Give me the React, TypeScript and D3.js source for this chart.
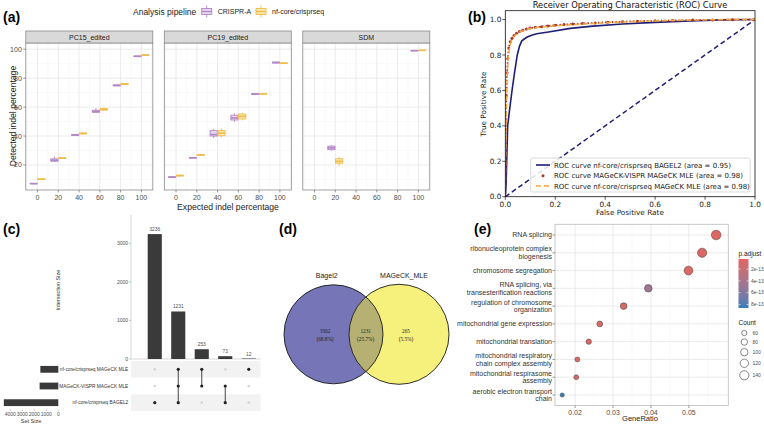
import React from 'react';
import * as d3 from 'd3';

const W = 764;
const H = 425;
const SANS = 'Liberation Sans, Arial, sans-serif';
const MPL = 'DejaVu Sans, sans-serif';

// ---------- (a) indel boxplots ----------
const facetNames = ['PC15_edited', 'PC19_edited', 'SDM'];
const pipelines = ['CRISPR-A', 'nf-core/crisprseq'];
const expectedPC = [0, 20, 40, 60, 80, 100];
const expectedSDM = [20, 100];
// [lower whisker, q1, median, q3, upper whisker]
const pc15Crispr = [
  [6.8, 7.0, 7.1, 7.3, 7.5],
  [22.3, 22.6, 23.3, 24.2, 25.8],
  [40.3, 40.5, 40.8, 41.0, 41.2],
  [56.2, 56.4, 57.0, 57.8, 59.2],
  [74.5, 74.7, 75.0, 75.3, 75.5],
  [94.7, 94.9, 95.1, 95.3, 95.5],
];
const pc15Nf = [
  [9.8, 10.0, 10.2, 10.4, 10.6],
  [24.3, 24.5, 24.8, 25.0, 25.2],
  [41.2, 41.5, 41.8, 42.1, 42.4],
  [57.6, 57.9, 58.5, 59.1, 59.4],
  [75.3, 75.6, 76.0, 76.3, 76.6],
  [95.4, 95.6, 95.9, 96.1, 96.3],
];
const pc19Crispr = [
  [11.2, 11.4, 11.6, 11.8, 12.0],
  [24.6, 24.8, 25.0, 25.2, 25.4],
  [38.6, 40.0, 41.0, 43.7, 44.9],
  [49.9, 51.1, 52.5, 54.4, 55.7],
  [68.4, 68.7, 69.0, 69.3, 69.6],
  [90.3, 90.5, 90.8, 91.1, 91.3],
];
const pc19Nf = [
  [12.2, 12.4, 12.7, 12.9, 13.1],
  [26.5, 26.7, 27.0, 27.2, 27.4],
  [39.0, 40.2, 42.0, 43.8, 45.2],
  [50.8, 51.8, 53.6, 55.2, 56.0],
  [68.8, 69.0, 69.2, 69.4, 69.6],
  [89.9, 90.1, 90.3, 90.5, 90.7],
];
const sdmCrispr = [
  [30.0, 30.6, 31.8, 33.0, 33.6],
  [98.8, 98.9, 99.0, 99.1, 99.2],
];
const sdmNf = [
  [19.3, 21.2, 22.5, 24.3, 25.7],
  [99.0, 99.1, 99.2, 99.3, 99.4],
];
const aTicks = [0, 20, 40, 60, 80, 100];

// ---------- (b) ROC ----------
const bagelFpr = [0, 0.003, 0.006, 0.0095, 0.018, 0.027, 0.037, 0.048, 0.057, 0.066, 0.086, 0.105, 0.126, 0.173, 0.26, 0.35, 0.47, 0.6, 0.74, 0.86, 1.0];
const bagelTpr = [0, 0.06, 0.22, 0.4, 0.5, 0.6, 0.7, 0.8, 0.85, 0.88, 0.9, 0.912, 0.92, 0.93, 0.95, 0.963, 0.975, 0.984, 0.992, 0.998, 1.0];
const visprFpr = [0, 0.001, 0.002, 0.004, 0.007, 0.01, 0.014, 0.02, 0.027, 0.035, 0.045, 0.057, 0.07, 0.085, 0.1, 0.12, 0.145, 0.17, 0.2, 0.235, 0.27, 0.31, 0.36, 0.41, 0.47, 0.53, 0.6, 0.67, 0.75, 0.83, 0.91, 1.0];
const visprTpr = [0, 0.18, 0.38, 0.57, 0.7, 0.78, 0.84, 0.875, 0.895, 0.91, 0.922, 0.932, 0.94, 0.947, 0.952, 0.956, 0.96, 0.964, 0.968, 0.972, 0.975, 0.978, 0.981, 0.985, 0.988, 0.991, 0.993, 0.995, 0.997, 0.998, 0.999, 1.0];
const nfFpr = [0, 0.001, 0.003, 0.006, 0.009, 0.0122, 0.018, 0.025, 0.032, 0.045, 0.059, 0.08, 0.099, 0.13, 0.166, 0.21, 0.26, 0.32, 0.38, 0.46, 0.54, 0.7, 0.87, 1.0];
const nfTpr = [0, 0.2, 0.4, 0.6, 0.72, 0.8, 0.85, 0.88, 0.9, 0.917, 0.93, 0.942, 0.95, 0.955, 0.96, 0.965, 0.97, 0.975, 0.98, 0.985, 0.99, 0.996, 1.0, 1.0];
const rocLabels = [
  'ROC curve nf-core/crisprseq BAGEL2 (area = 0.95)',
  'ROC curve MAGeCK-VISPR MAGeCK MLE (area = 0.98)',
  'ROC curve nf-core/crisprseq MAGeCK MLE (area = 0.98)',
];
const rocTicks = [0, 0.2, 0.4, 0.6, 0.8, 1.0];

// ---------- (c) upset ----------
const setNames = ['nf-core/crisprseq MAGeCK MLE', 'MAGeCK-VISPR MAGeCK MLE', 'nf-core/crisprseq BAGEL2'];
const setSizes = [1496, 1557, 4540];
const intersectionSizes = [3236, 1231, 253, 73, 12];
const intersectionMembers = [[2], [0, 1, 2], [0, 1], [1, 2], [0]];
const intersectionTicks = [0, 1000, 2000, 3000];
const setSizeTicks = [4000, 3000, 2000, 1000, 0];

// ---------- (d) venn ----------
const vennNames = ['Bagel2', 'MAGeCK_MLE'];
const vennCounts = [3302, 1231, 265];
const vennPercents = ['68.8%', '25.7%', '5.5%'];

// ---------- (e) GO dotplot ----------
const goTerms = [
  'RNA splicing',
  'ribonucleoprotein complex\nbiogenesis',
  'chromosome segregation',
  'RNA splicing, via\ntransesterification reactions',
  'regulation of chromosome\norganization',
  'mitochondrial gene expression',
  'mitochondrial translation',
  'mitochondrial respiratory\nchain complex assembly',
  'mitochondrial respirasome\nassembly',
  'aerobic electron transport\nchain',
];
const goGeneRatio = [0.0572, 0.0535, 0.0499, 0.0393, 0.0328, 0.0265, 0.0236, 0.0206, 0.0203, 0.0166];
const goCount = [150, 140, 131, 103, 86, 69, 62, 54, 53, 44];
const goPadj = [3.0e-14, 5.0e-14, 6.0e-14, 4.6e-13, 9.0e-14, 7.0e-14, 6.5e-14, 4.0e-14, 3.5e-14, 8.6e-13];
const goXTicks = [0.02, 0.03, 0.04, 0.05];
const padjTicks = [2e-13, 4e-13, 6e-13, 8e-13];
const padjTickLabels = ['2e-13', '4e-13', '6e-13', '8e-13'];
const countLegend = [60, 80, 100, 120, 140];

const PURPLE = '#b386c8';
const PURPLE_FILL = '#e7d8ef';
const GOLD = '#eebd4a';
const GOLD_FILL = '#f9e7b3';

function BoxGlyph({ x, s, y, half, stroke, fill }: any) {
  const [lw, q1, med, q3, uw] = s;
  return (
    <g stroke={stroke}>
      <line x1={x} x2={x} y1={y(lw)} y2={y(q1)} strokeWidth={0.9} />
      <line x1={x} x2={x} y1={y(q3)} y2={y(uw)} strokeWidth={0.9} />
      <rect x={x - half} y={y(q3)} width={2 * half} height={Math.max(0.1, y(q1) - y(q3))} fill={fill} strokeWidth={0.9} />
      <line x1={x - half} x2={x + half} y1={y(med)} y2={y(med)} strokeWidth={1.6} />
    </g>
  );
}

function PanelA() {
  const facetLeft = [25.8, 164.3, 302.8];
  const facetW = 127;
  const top = 43;
  const bottom = 190;
  const stripTop = 31;
  const y = d3.scaleLinear().domain([2.7, 104.3]).range([bottom, top]);
  const facets = [
    { xs: expectedPC, a: pc15Crispr, b: pc15Nf },
    { xs: expectedPC, a: pc19Crispr, b: pc19Nf },
    { xs: expectedSDM, a: sdmCrispr, b: sdmNf },
  ];
  const yMinor = [10, 30, 50, 70, 90];
  const xMinor = [-10, 10, 30, 50, 70, 90, 110];
  return (
    <g fontFamily={SANS}>
      <text x={3} y={22} fontSize={14} fontWeight="bold">(a)</text>
      {/* legend */}
      <text x={133} y={15} fontSize={8.5} fill="#222">Analysis pipeline</text>
      {[0, 1].map((k) => {
        const cx = k === 0 ? 206.7 : 261;
        const col = k === 0 ? PURPLE : GOLD;
        const fl = k === 0 ? PURPLE_FILL : GOLD_FILL;
        return (
          <g key={k}>
            <line x1={cx} x2={cx} y1={5.5} y2={8.5} stroke={col} strokeWidth={0.9} />
            <line x1={cx} x2={cx} y1={14.5} y2={17.5} stroke={col} strokeWidth={0.9} />
            <rect x={cx - 5} y={8.5} width={10} height={6} fill={fl} stroke={col} strokeWidth={0.9} />
            <line x1={cx - 5} x2={cx + 5} y1={11.5} y2={11.5} stroke={col} strokeWidth={1.3} />
            <text x={cx + 11} y={14} fontSize={7} fill="#222">{pipelines[k]}</text>
          </g>
        );
      })}
      {facets.map((f, i) => {
        const x0 = facetLeft[i];
        const x = d3.scaleLinear().domain([-11.3, 111]).range([x0, x0 + facetW]);
        return (
          <g key={i}>
            <rect x={x0} y={top} width={facetW} height={bottom - top} fill="#fff" />
            {xMinor.map((t) => (
              <line key={'xm' + t} x1={x(t)} x2={x(t)} y1={top} y2={bottom} stroke="#f3f3f3" strokeWidth={0.5} />
            ))}
            {yMinor.map((t) => (
              <line key={'ym' + t} x1={x0} x2={x0 + facetW} y1={y(t)} y2={y(t)} stroke="#f3f3f3" strokeWidth={0.5} />
            ))}
            {aTicks.map((t) => (
              <line key={'xg' + t} x1={x(t)} x2={x(t)} y1={top} y2={bottom} stroke="#e6e6e6" strokeWidth={0.8} />
            ))}
            {aTicks.filter((t) => t > 0).map((t) => (
              <line key={'yg' + t} x1={x0} x2={x0 + facetW} y1={y(t)} y2={y(t)} stroke="#e6e6e6" strokeWidth={0.8} />
            ))}
            {f.xs.map((e, j) => (
              <g key={j}>
                <BoxGlyph x={x(e - 3.75)} s={f.a[j]} y={y} half={3.6} stroke={PURPLE} fill={PURPLE_FILL} />
                <BoxGlyph x={x(e + 3.75)} s={f.b[j]} y={y} half={3.6} stroke={GOLD} fill={GOLD_FILL} />
              </g>
            ))}
            <rect x={x0} y={top} width={facetW} height={bottom - top} fill="none" stroke="#8a8a8a" strokeWidth={0.8} />
            <rect x={x0} y={stripTop} width={facetW} height={top - stripTop} fill="#d9d9d9" stroke="#8a8a8a" strokeWidth={0.8} />
            <text x={x0 + facetW / 2} y={top - 3.5} fontSize={7} textAnchor="middle" fill="#1a1a1a">{facetNames[i]}</text>
            {aTicks.map((t) => (
              <g key={'xt' + t}>
                <line x1={x(t)} x2={x(t)} y1={bottom} y2={bottom + 2.5} stroke="#555" strokeWidth={0.6} />
                <text x={x(t)} y={bottom + 9.5} fontSize={7} textAnchor="middle" fill="#4d4d4d">{t}</text>
              </g>
            ))}
            {i === 0 &&
              aTicks.filter((t) => t > 0).map((t) => (
                <g key={'yt' + t}>
                  <line x1={x0 - 2.5} x2={x0} y1={y(t)} y2={y(t)} stroke="#555" strokeWidth={0.6} />
                  <text x={x0 - 4} y={y(t) + 2.5} fontSize={7} textAnchor="end" fill="#4d4d4d">{t}</text>
                </g>
              ))}
          </g>
        );
      })}
      <text x={12.5} y={116} fontSize={8.6} textAnchor="middle" transform="rotate(-90 12.5 116)" dy={3} fill="#222">
        Detected indel percentage
      </text>
      <text x={228} y={210} fontSize={8.6} textAnchor="middle" fill="#222">Expected indel percentage</text>
    </g>
  );
}

function PanelB() {
  const x = d3.scaleLinear().domain([0, 1]).range([505.3, 755]);
  const y = d3.scaleLinear().domain([0, 1.05]).range([196.7, 10.7]);
  const line = d3.line<number[]>().x((d) => x(d[0])).y((d) => y(d[1]));
  const bagel = bagelFpr.map((f, i) => [f, bagelTpr[i]]);
  const vispr = visprFpr.map((f, i) => [f, visprTpr[i]]);
  const nf = nfFpr.map((f, i) => [f, nfTpr[i]]);
  const NAVY = '#1f1f78';
  const BROWN = '#a8372a';
  const ORANGE = '#f5a640';
  const legY = [165, 175.7, 186];
  return (
    <g fontFamily={MPL}>
      <text x={468} y={22} fontSize={14} fontWeight="bold" fontFamily={SANS}>(b)</text>
      <text x={630} y={8} fontSize={8.3} textAnchor="middle" fill="#111">Receiver Operating Characteristic (ROC) Curve</text>
      <defs>
        <clipPath id="rocClip">
          <rect x={x(0)} y={y(1.05)} width={x(1) - x(0)} height={y(0) - y(1.05)} />
        </clipPath>
      </defs>
      <g clipPath="url(#rocClip)">
        <path d={line([[0, 0], [1, 1]]) || ''} fill="none" stroke={NAVY} strokeWidth={1.5} strokeDasharray="5 3" />
        <path d={line(bagel) || ''} fill="none" stroke={NAVY} strokeWidth={1.6} />
        <path d={line(vispr) || ''} fill="none" stroke={BROWN} strokeWidth={1.8} strokeDasharray="1.5 2" />
        {vispr.map((d, i) => (
          <circle key={i} cx={x(d[0])} cy={y(d[1])} r={1.5} fill={BROWN} />
        ))}
        <path d={line(nf) || ''} fill="none" stroke={ORANGE} strokeWidth={1.5} strokeDasharray="5 3" />
      </g>
      <rect x={x(0)} y={y(1.05)} width={x(1) - x(0)} height={y(0) - y(1.05)} fill="none" stroke="#111" strokeWidth={0.8} />
      {rocTicks.map((t) => (
        <g key={t}>
          <line x1={x(t)} x2={x(t)} y1={y(0)} y2={y(0) + 3} stroke="#111" strokeWidth={0.7} />
          <text x={x(t)} y={y(0) + 10} fontSize={7.3} textAnchor="middle" fill="#222">{t.toFixed(1)}</text>
          <line x1={x(0) - 3} x2={x(0)} y1={y(t)} y2={y(t)} stroke="#111" strokeWidth={0.7} />
          <text x={x(0) - 4} y={y(t) + 2.6} fontSize={7.3} textAnchor="end" fill="#222">{t.toFixed(1)}</text>
        </g>
      ))}
      <text x={630} y={214.5} fontSize={7.3} textAnchor="middle" fill="#222">False Positive Rate</text>
      <text x={483} y={104} fontSize={7.3} textAnchor="middle" transform="rotate(-90 483 104)" dy={2.5} fill="#222">True Positive Rate</text>
      {/* legend */}
      <rect x={530.7} y={158} width={219.5} height={34} rx={2} fill="#fff" fillOpacity={0.85} stroke="#d0d0d0" strokeWidth={0.8} />
      <line x1={536} x2={550} y1={legY[0]} y2={legY[0]} stroke={NAVY} strokeWidth={1.6} />
      <circle cx={543} cy={legY[1]} r={1.5} fill={BROWN} />
      <line x1={536} x2={550} y1={legY[2]} y2={legY[2]} stroke={ORANGE} strokeWidth={1.5} strokeDasharray="5 3" />
      {rocLabels.map((l, i) => (
        <text key={i} x={554} y={legY[i] + 2.5} fontSize={7} fill="#222">{l}</text>
      ))}
    </g>
  );
}

function PanelC() {
  const xb = d3.scaleBand<number>().domain(d3.range(intersectionSizes.length)).range([143, 260.5]).paddingInner(0.4).paddingOuter(0.2);
  const y = d3.scaleLinear().domain([0, 3000]).range([359, 243.2]);
  const row = d3.scaleBand<string>().domain(setNames).range([361, 411]);
  const sx = d3.scaleLinear().domain([0, 4000]).range([58.3, 10.3]);
  const BAR = '#3a3a3a';
  return (
    <g fontFamily={SANS}>
      <text x={3} y={234} fontSize={14} fontWeight="bold">(c)</text>
      {/* matrix stripes */}
      {setNames.map((s, j) => (
        <rect key={s} x={131} y={row(s)} width={129.5} height={row.bandwidth()} fill={j % 2 === 0 ? '#f2f2f2' : '#fff'} />
      ))}
      {/* intersection bars */}
      <line x1={131} x2={131} y1={215} y2={359} stroke="#bdbdbd" strokeWidth={0.6} />
      <line x1={131} x2={260.5} y1={359} y2={359} stroke="#bdbdbd" strokeWidth={0.6} />
      {intersectionTicks.map((t) => (
        <g key={t}>
          <line x1={129} x2={131} y1={y(t)} y2={y(t)} stroke="#999" strokeWidth={0.5} />
          <text x={128} y={y(t) + 1.8} fontSize={5} textAnchor="end" fill="#4d4d4d">{t}</text>
        </g>
      ))}
      {intersectionSizes.map((v, i) => (
        <g key={i}>
          <rect x={xb(i)} y={y(v)} width={xb.bandwidth()} height={y(0) - y(v)} fill={BAR} />
          <text x={(xb(i) as number) + xb.bandwidth() / 2} y={y(v) - 3} fontSize={4.8} textAnchor="middle" fill="#4d4d4d">{v}</text>
        </g>
      ))}
      <text x={59.5} y={290} fontSize={5.5} textAnchor="middle" transform="rotate(-90 59.5 290)" fill="#333">Intersection Size</text>
      {/* matrix */}
      {intersectionMembers.map((m, i) => {
        const cx = (xb(i) as number) + xb.bandwidth() / 2;
        const ys = m.map((j) => (row(setNames[j]) as number) + row.bandwidth() / 2);
        return (
          <g key={i}>
            {setNames.map((s, j) =>
              m.includes(j) ? null : (
                <circle key={s} cx={cx} cy={(row(s) as number) + row.bandwidth() / 2} r={1.3} fill="#d6d6d6" />
              )
            )}
            {m.length > 1 && (
              <line x1={cx} x2={cx} y1={d3.min(ys)} y2={d3.max(ys)} stroke="#333" strokeWidth={0.9} />
            )}
            {ys.map((yy, k) => (
              <circle key={k} cx={cx} cy={yy} r={1.6} fill="#222" />
            ))}
          </g>
        );
      })}
      {/* set sizes */}
      {setNames.map((s, j) => {
        const cy = (row(s) as number) + row.bandwidth() / 2;
        return (
          <g key={s}>
            <rect x={sx(setSizes[j])} y={cy - 3.4} width={sx(0) - sx(setSizes[j])} height={6.8} fill={BAR} />
            <text x={128.3} y={cy + 1.7} fontSize={4.8} textAnchor="end" fill="#333">{s}</text>
          </g>
        );
      })}
      {setSizeTicks.map((t) => (
        <g key={t}>
          <line x1={sx(t)} x2={sx(t)} y1={409.5} y2={411} stroke="#999" strokeWidth={0.5} />
          <text x={sx(t)} y={416} fontSize={5} textAnchor="middle" fill="#4d4d4d">{t}</text>
        </g>
      ))}
      <text x={31} y={423} fontSize={5.5} textAnchor="middle" fill="#333">Set Size</text>
    </g>
  );
}

function PanelD() {
  const c1 = { x: 333.5, y: 334.3, r: 49.5 };
  const c2 = { x: 399, y: 334.3, r: 50 };
  const serif = 'Liberation Serif, Times New Roman, serif';
  const numX = [325, 365.7, 406];
  return (
    <g fontFamily={SANS}>
      <text x={279} y={234} fontSize={14} fontWeight="bold">(d)</text>
      <defs>
        <clipPath id="vennClip">
          <circle cx={c1.x} cy={c1.y} r={c1.r} />
        </clipPath>
      </defs>
      <circle cx={c1.x} cy={c1.y} r={c1.r} fill="#7575b8" />
      <circle cx={c2.x} cy={c2.y} r={c2.r} fill="#f6f17c" />
      <circle cx={c2.x} cy={c2.y} r={c2.r} fill="#b6b173" clipPath="url(#vennClip)" />
      <circle cx={c1.x} cy={c1.y} r={c1.r} fill="none" stroke="#1a1a1a" strokeWidth={0.9} />
      <circle cx={c2.x} cy={c2.y} r={c2.r} fill="none" stroke="#1a1a1a" strokeWidth={0.9} />
      <text x={326.7} y={277.5} fontSize={7} textAnchor="middle" fill="#222">{vennNames[0]}</text>
      <text x={404} y={277.5} fontSize={7} textAnchor="middle" fill="#222">{vennNames[1]}</text>
      {vennCounts.map((v, i) => (
        <g key={i} fontFamily={serif} fontSize={5.3} fill="#222" textAnchor="middle">
          <text x={numX[i]} y={333}>{v}</text>
          <text x={numX[i]} y={340.5}>({vennPercents[i]})</text>
        </g>
      ))}
    </g>
  );
}

function PanelE() {
  const left = 555;
  const right = 728.3;
  const top = 224.3;
  const bottom = 405.5;
  const x = d3.scaleLinear().domain([0.0147, 0.0604]).range([left, right]);
  const y = d3.scalePoint<string>().domain(goTerms).range([235, 395]);
  const pmin = d3.min(goPadj) as number;
  const pmax = d3.max(goPadj) as number;
  const color = d3.scaleLinear<string>().domain([pmin, pmax]).range(['#e06663', '#327eba']).interpolate(d3.interpolateLab);
  const rs = d3.scaleLinear().domain([Math.sqrt(44), Math.sqrt(150)]).range([2.1, 4.8]);
  const r = (c: number) => rs(Math.sqrt(c));
  const cbTop = 259;
  const cbBottom = 308;
  const cb = d3.scaleLinear().domain([pmin, pmax]).range([cbTop, cbBottom]);
  const minor = [0.015, 0.025, 0.035, 0.045, 0.055];
  const legYs: number[] = [];
  countLegend.forEach((c, i) => {
    if (i === 0) legYs.push(333);
    else legYs.push(legYs[i - 1] + r(countLegend[i - 1]) + r(c) + 3.2);
  });
  return (
    <g fontFamily={SANS}>
      <text x={474} y={234} fontSize={14} fontWeight="bold">(e)</text>
      <defs>
        <linearGradient id="padjGrad" x1="0" y1="0" x2="0" y2="1">
          {d3.range(0, 1.0001, 0.1).map((t) => (
            <stop key={t} offset={t} stopColor={color(pmin + t * (pmax - pmin))} />
          ))}
        </linearGradient>
      </defs>
      <rect x={left} y={top} width={right - left} height={bottom - top} fill="#fff" />
      {minor.map((t) => (
        <line key={t} x1={x(t)} x2={x(t)} y1={top} y2={bottom} stroke="#f4f4f4" strokeWidth={0.5} />
      ))}
      {goXTicks.map((t) => (
        <line key={t} x1={x(t)} x2={x(t)} y1={top} y2={bottom} stroke="#e6e6e6" strokeWidth={0.8} />
      ))}
      {goTerms.map((t) => (
        <line key={t} x1={left} x2={right} y1={y(t)} y2={y(t)} stroke="#e6e6e6" strokeWidth={0.8} />
      ))}
      {goTerms.map((t, i) => (
        <circle key={t} cx={x(goGeneRatio[i])} cy={y(t)} r={r(goCount[i])} fill={color(goPadj[i])} stroke="#3a3a3a" strokeWidth={0.5} />
      ))}
      <rect x={left} y={top} width={right - left} height={bottom - top} fill="none" stroke="#bdbdbd" strokeWidth={0.8} />
      {goTerms.map((t) => {
        const lines = t.split('\n');
        const yy = y(t) as number;
        return (
          <g key={t}>
            <line x1={left - 2.5} x2={left} y1={yy} y2={yy} stroke="#555" strokeWidth={0.6} />
            {lines.map((l, k) => (
              <text key={k} x={552} y={yy + 2.4 + (k - (lines.length - 1) / 2) * 7.6} fontSize={7} textAnchor="end" fill="#333">{l}</text>
            ))}
          </g>
        );
      })}
      {goXTicks.map((t) => (
        <g key={t}>
          <line x1={x(t)} x2={x(t)} y1={bottom} y2={bottom + 2.5} stroke="#555" strokeWidth={0.6} />
          <text x={x(t)} y={bottom + 9} fontSize={7} textAnchor="middle" fill="#4d4d4d">{t.toFixed(2)}</text>
        </g>
      ))}
      <text x={640} y={421} fontSize={7.5} textAnchor="middle" fill="#222">GeneRatio</text>
      {/* colour legend */}
      <text x={738.5} y={255.5} fontSize={6.5} fill="#222">p.adjust</text>
      <rect x={738.5} y={cbTop} width={10} height={cbBottom - cbTop} fill="url(#padjGrad)" />
      {padjTicks.map((p, i) => (
        <g key={i}>
          <line x1={738.5} x2={740.5} y1={cb(p)} y2={cb(p)} stroke="#fff" strokeWidth={0.6} />
          <line x1={746.5} x2={748.5} y1={cb(p)} y2={cb(p)} stroke="#fff" strokeWidth={0.6} />
          <text x={751} y={cb(p) + 1.8} fontSize={5} fill="#4d4d4d">{padjTickLabels[i]}</text>
        </g>
      ))}
      {/* size legend */}
      <text x={738.5} y={324.5} fontSize={6.5} fill="#222">Count</text>
      {countLegend.map((c, i) => (
        <g key={c}>
          <circle cx={744.3} cy={legYs[i]} r={r(c)} fill="#fff" stroke="#3a3a3a" strokeWidth={0.6} />
          <text x={752.5} y={legYs[i] + 1.8} fontSize={5} fill="#4d4d4d">{c}</text>
        </g>
      ))}
    </g>
  );
}

export default function App() {
  return (
    <svg width={W} height={H} style={{ position: 'absolute', left: 0, top: 0 }}>
      <rect width={W} height={H} fill="#fff" />
      <PanelA />
      <PanelB />
      <PanelC />
      <PanelD />
      <PanelE />
    </svg>
  );
}
